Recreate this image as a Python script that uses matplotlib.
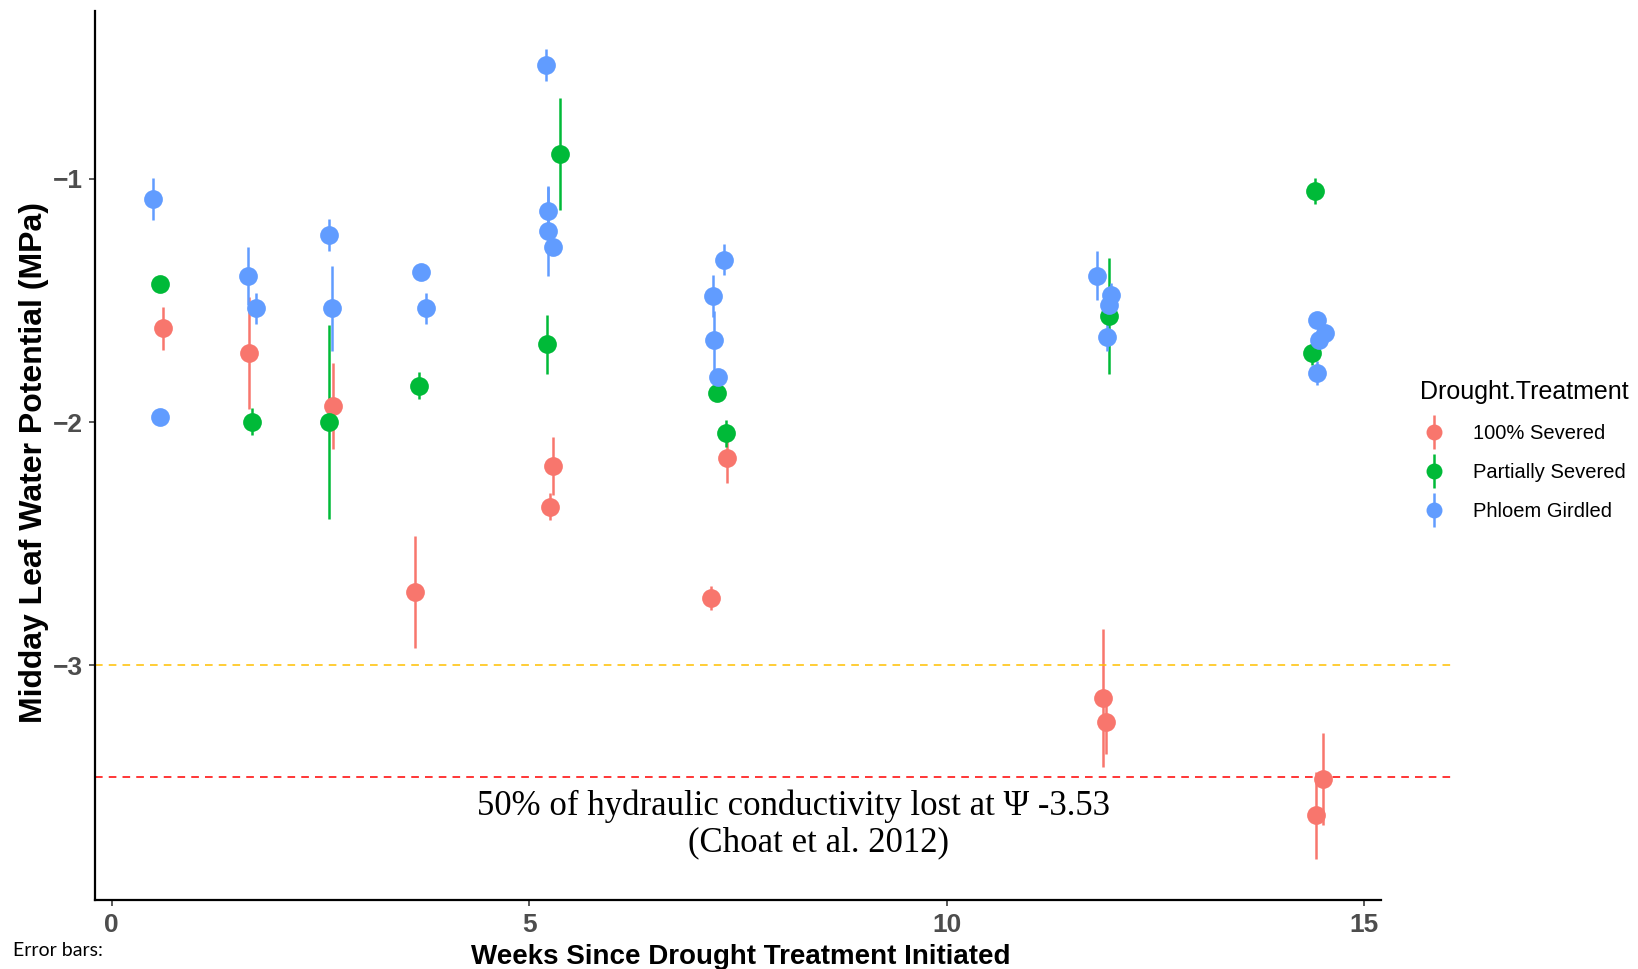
import matplotlib
matplotlib.use("Agg")
import matplotlib.pyplot as plt
from matplotlib.legend_handler import HandlerErrorbar

# Midday leaf water potential by treatment (mean +/- SE)
sev_weeks = [0.615, 1.645, 2.651, 3.63, 5.28, 5.25, 7.368, 7.18, 11.87, 11.91, 14.51, 14.42]
sev_psi = [-1.615, -1.715, -1.933, -2.697, -2.181, -2.348, -2.149, -2.722, -3.135, -3.233, -3.466, -3.617]
sev_se = [0.087, 0.231, 0.177, 0.23, 0.118, 0.055, 0.1, 0.05, 0.284, 0.13, 0.19, 0.18]

part_weeks = [0.58, 1.677, 2.608, 3.68, 5.371, 5.21, 7.244, 7.356, 11.95, 14.41, 14.37]
part_psi = [-1.433, -1.999, -2.0, -1.851, -0.90, -1.681, -1.882, -2.046, -1.564, -1.05, -1.717]
part_se = [0.02, 0.055, 0.4, 0.055, 0.23, 0.12, 0.03, 0.055, 0.24, 0.055, 0.05]

gird_weeks = [0.49, 0.575, 1.633, 1.725, 2.604, 2.636, 3.70, 3.77, 5.203, 5.22, 5.227, 5.29,
              7.33, 7.197, 7.216, 7.264, 11.80, 11.97, 11.95, 11.92, 14.43, 14.53, 14.46, 14.43]
gird_psi = [-1.084, -1.98, -1.40, -1.533, -1.232, -1.533, -1.382, -1.533, -0.533, -1.133, -1.215, -1.282,
            -1.332, -1.482, -1.664, -1.814, -1.398, -1.479, -1.517, -1.649, -1.579, -1.632, -1.661, -1.799]
gird_se = [0.087, 0.01, 0.12, 0.065, 0.065, 0.174, 0.01, 0.065, 0.065, 0.1, 0.185, 0.03,
           0.063, 0.087, 0.12, 0.03, 0.1, 0.05, 0.05, 0.057, 0.03, 0.03, 0.03, 0.05]

treatments = ["100% Severed", "Partially Severed", "Phloem Girdled"]
colors = ["#F8766D", "#00BA38", "#619CFF"]

# reference thresholds
psi_warning = -3.0
psi_p50_line = -3.46

fig = plt.figure(figsize=(16.38, 9.69), dpi=100)
ax = fig.add_axes([0.058, 0.0708, 0.785, 0.9182])

handles = []
series = [(sev_weeks, sev_psi, sev_se), (part_weeks, part_psi, part_se), (gird_weeks, gird_psi, gird_se)]
for (wk, psi, se), col in zip(series, colors):
    h = ax.errorbar(wk, psi, yerr=se, fmt="o", color=col, ecolor=col,
                    markersize=13.5, elinewidth=1.8, capsize=0, markeredgewidth=0)
    handles.append(h)

# dashed reference lines run past the axis into the margin
ax.axhline(psi_warning, xmin=0, xmax=1.055, color="#FFC000", lw=1.1,
           linestyle=(0, (5, 4)), clip_on=False)
ax.axhline(psi_p50_line, xmin=0, xmax=1.055, color="#FF0000", lw=1.1,
           linestyle=(0, (5, 4)), clip_on=False)

ax.text(8.17, -3.58, "50% of hydraulic conductivity lost at \u03a8 -3.53",
        ha="center", va="center", fontsize=25, family="Liberation Serif")
ax.text(8.46, -3.73, "(Choat et al. 2012)",
        ha="center", va="center", fontsize=25, family="Liberation Serif")

ax.set_xlim(-0.2, 15.2)
ax.set_ylim(-3.966, -0.309)
ax.set_xticks([0, 5, 10, 15])
ax.set_yticks([-1, -2, -3])

for side in ["top", "right"]:
    ax.spines[side].set_visible(False)
for side in ["left", "bottom"]:
    ax.spines[side].set_linewidth(1.6)
    ax.spines[side].set_color("black")

ax.tick_params(axis="both", length=4, width=1.3, color="#4D4D4D",
               labelsize=19, labelcolor="#4D4D4D", pad=5)
for lab in ax.get_xticklabels() + ax.get_yticklabels():
    lab.set_fontweight("bold")
    lab.set_family("Liberation Sans")

ax.set_xlabel("Weeks Since Drought Treatment Initiated", fontsize=20,
              fontweight="bold", family="Liberation Sans")
ax.xaxis.set_label_coords(0.502, -0.049)
ax.set_ylabel("Midday Leaf Water Potential (MPa)", fontsize=23,
              fontweight="bold", family="Liberation Sans")
ax.yaxis.set_label_coords(-0.036, 0.4926)

leg = ax.legend(handles, treatments, title="Drought.Treatment", frameon=False,
                loc="upper left", bbox_to_anchor=(0.856, 0.627),
                bbox_transform=fig.transFigure, alignment="left",
                prop={"family": "Liberation Sans", "size": 14.5},
                title_fontproperties={"family": "Liberation Sans", "size": 18},
                handlelength=1.4, handletextpad=1.2, labelspacing=1.0,
                markerscale=0.85,
                handler_map={type(handles[0]): HandlerErrorbar(yerr_size=0.85)})

fig.text(0.008, 0.019, "Error bars:", fontsize=14, family="Lato", va="center")

fig.savefig("out.png", dpi=100)
